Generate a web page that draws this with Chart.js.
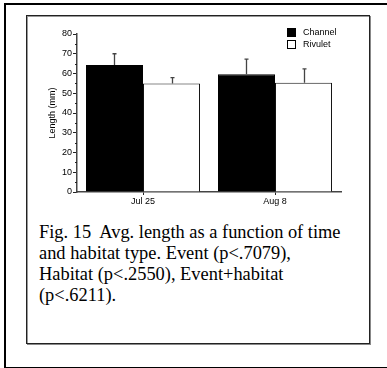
<!DOCTYPE html>
<html>
<head>
<meta charset="utf-8">
<script src="https://cdn.jsdelivr.net/npm/chart.js@4.4.1/dist/chart.umd.min.js"></script>
<style>
  html, body { margin: 0; padding: 0; background: #fff; width: 387px; height: 368px; overflow: hidden; }
  #outer { position: absolute; left: 4px; top: 3px; width: 420px; height: 362px; border: 2px solid #000; border-right: none; }
  #inner { position: absolute; left: 26px; top: 15px; width: 342px; height: 327px; border: 1px solid #222; box-shadow: inset 1px 1px 0 #999, 1px 1px 0 #888; }
  #caption { position: absolute; left: 39px; top: 222px; font-family: "Liberation Serif", "Times New Roman", serif; font-size: 18.4px; line-height: 21px; color: #000; white-space: pre; }
  #wrap { position: absolute; left: 0; top: 0; width: 387px; height: 368px; }
</style>
</head>
<body>
<div id="outer"></div>
<div id="inner"></div>
<div id="caption">Fig. 15  Avg. length as a function of time
and habitat type. Event (p&lt;.7079),
Habitat (p&lt;.2550), Event+habitat
(p&lt;.6211).</div>
<div id="wrap"><canvas id="c" width="387" height="368"></canvas></div>
<script>
const categories = ['Jul 25', 'Aug 8'];
const seriesNames = ['Channel', 'Rivulet'];
const channelMeans = [64.3, 59.6];
const rivuletMeans = [55.0, 55.3];
const channelErr = [5.7, 7.7];
const rivuletErr = [2.9, 7.0];
const yTicks = [0, 10, 20, 30, 40, 50, 60, 70, 80];
const yMinorTicks = [5, 15, 25, 35, 45, 55, 65, 75];

Chart.defaults.font.family = '"Liberation Sans", Arial, sans-serif';
Chart.defaults.font.size = 9;
Chart.defaults.color = '#000';

const errorBars = {
  id: 'errorBars',
  afterDatasetsDraw(chart) {
    const ctx = chart.ctx;
    const y = chart.scales.y;
    ctx.save();
    ctx.strokeStyle = '#444';
    ctx.lineWidth = 1.3;
    chart.data.datasets.forEach((ds, i) => {
      const meta = chart.getDatasetMeta(i);
      meta.data.forEach((bar, j) => {
        const top = y.getPixelForValue(ds.data[j] + ds.errors[j]);
        const x = Math.round(bar.x) + 0.5;
        ctx.beginPath();
        ctx.moveTo(x, bar.y);
        ctx.lineTo(x, top);
        ctx.moveTo(x - 2, top);
        ctx.lineTo(x + 2, top);
        ctx.stroke();
      });
    });
    ctx.restore();
  }
};

const minorTicks = {
  id: 'minorTicks',
  afterDraw(chart) {
    const ctx = chart.ctx;
    const y = chart.scales.y;
    ctx.save();
    ctx.strokeStyle = '#222';
    ctx.lineWidth = 1;
    yMinorTicks.forEach(v => {
      const py = Math.round(y.getPixelForValue(v)) + 0.5;
      ctx.beginPath();
      ctx.moveTo(y.right - 2, py);
      ctx.lineTo(y.right, py);
      ctx.stroke();
    });
    ctx.restore();
  }
};

const boxLegend = {
  id: 'boxLegend',
  afterDraw(chart) {
    const ctx = chart.ctx;
    const x0 = 287, y0 = 28, step = 12, size = 9;
    ctx.save();
    ctx.font = '9px "Liberation Sans", Arial, sans-serif';
    ctx.textBaseline = 'middle';
    chart.data.datasets.forEach((ds, i) => {
      const yy = y0 + i * step;
      ctx.fillStyle = ds.backgroundColor;
      ctx.fillRect(x0, yy, size, size);
      ctx.strokeStyle = '#000';
      ctx.lineWidth = 1;
      ctx.strokeRect(x0 + 0.5, yy + 0.5, size - 1, size - 1);
      ctx.fillStyle = '#000';
      ctx.fillText(ds.label, x0 + 16, yy + size / 2);
    });
    ctx.restore();
  }
};

new Chart(document.getElementById('c'), {
  type: 'bar',
  data: {
    labels: categories,
    datasets: [
      { label: seriesNames[0], data: channelMeans, errors: channelErr, backgroundColor: '#000', borderColor: '#000', borderWidth: 1 },
      { label: seriesNames[1], data: rivuletMeans, errors: rivuletErr, backgroundColor: '#fff', borderColor: '#111', borderWidth: 1 }
    ]
  },
  options: {
    responsive: false,
    animation: false,
    devicePixelRatio: 1,
    layout: { padding: { left: 43, right: 46, top: 34, bottom: 156 } },
    datasets: { bar: { categoryPercentage: 0.864, barPercentage: 1.0 } },
    plugins: { legend: { display: false }, tooltip: { enabled: false } },
    scales: {
      x: {
        grid: { display: true, drawOnChartArea: false, offset: false, tickLength: 3, color: '#222' },
        border: { display: true, color: '#444', width: 1.5 },
        ticks: { padding: 1, color: '#000', font: { size: 9 } },
        afterFit(s) { s.height = 20; }
      },
      y: {
        min: 0, max: 80,
        afterBuildTicks(s) { s.ticks = yTicks.map(v => ({ value: v })); },
        grid: { display: true, drawOnChartArea: false, tickLength: 4, color: '#222' },
        border: { display: true, color: '#444', width: 1.5 },
        ticks: { padding: 1, color: '#000', font: { size: 9 } },
        title: { display: true, text: 'Length (mm)', font: { size: 9 }, color: '#000', padding: { top: 4, bottom: 0 } },
        afterFit(s) { s.width = 34; }
      }
    }
  },
  plugins: [errorBars, minorTicks, boxLegend]
});
</script>
</body>
</html>
